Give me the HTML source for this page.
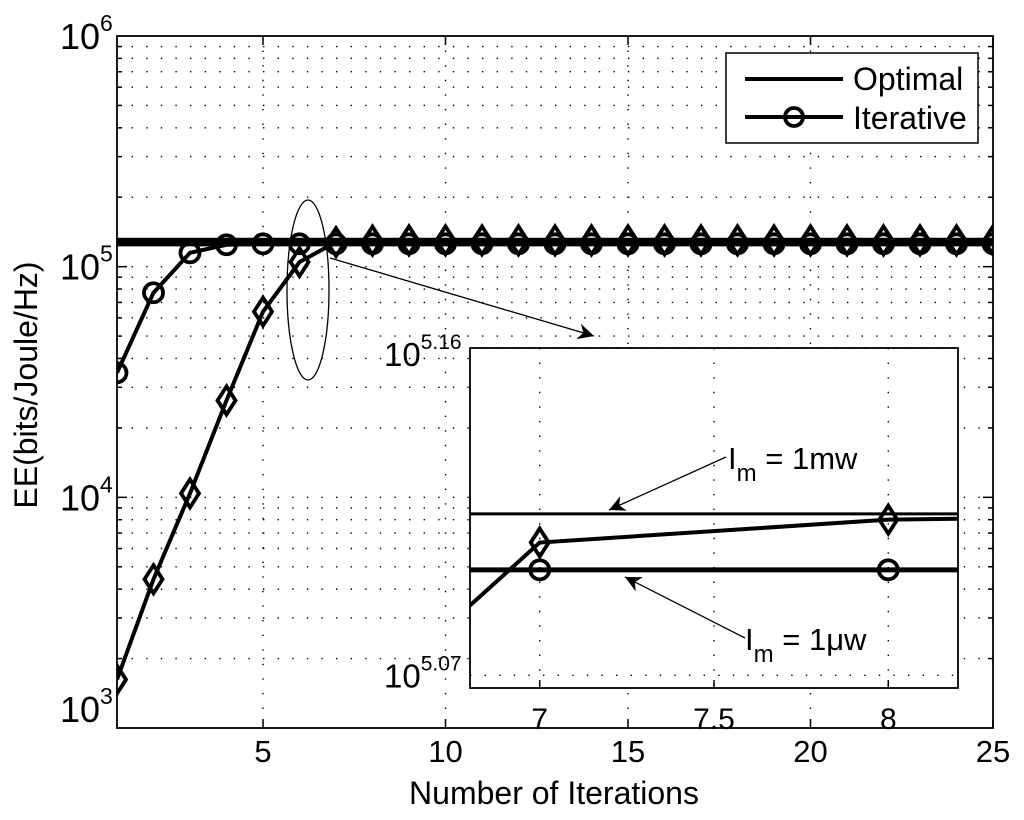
<!DOCTYPE html>
<html><head><meta charset="utf-8"><style>
html,body{margin:0;background:#fff;overflow:hidden;width:1024px;height:820px}
svg{display:block}
svg text{font-family:"Liberation Sans",sans-serif;fill:#000}
</style></head><body>
<svg id="chart" width="1024" height="820" xmlns="http://www.w3.org/2000/svg">
<defs>
<clipPath id="mainClip"><rect x="117" y="36" width="876" height="692"/></clipPath>
<clipPath id="insClip"><rect x="470" y="348" width="488" height="340"/></clipPath>
<marker id="ah" viewBox="0 0 10 10" refX="10" refY="5" markerWidth="16" markerHeight="16" orient="auto" markerUnits="userSpaceOnUse"><path d="M0,0 L10,5 L0,10 L3,5 z" fill="#000"/></marker>
</defs>
<g id="main"></g>
<g id="inset"></g>
</svg>
<script>
// Main chart data (log10 of EE)
const iterX = [1,2,3,4,5,6,7,8,9,10,11,12,13,14,15,16,17,18,19,20,21,22,23,24,25];
const circleLog = [4.54,4.887,5.06,5.095,5.099,5.099,5.099,5.099,5.099,5.099,5.099,5.099,5.099,5.099,5.099,5.099,5.099,5.099,5.099,5.099,5.099,5.099,5.099,5.099,5.099];
const diamondLog = [3.21,3.645,4.017,4.42,4.805,5.02,5.1065,5.1128,5.114,5.114,5.114,5.114,5.114,5.114,5.114,5.114,5.114,5.114,5.114,5.114,5.114,5.114,5.114,5.114,5.114];
const optimalLogs = [5.1144,5.099];
const xTicks = [5,10,15,20,25];
const yDecades = [3,4,5,6];
const insetXTicks = [7,7.5,8];
const insetYTicks = ["5.07","5.16"];

const NS="http://www.w3.org/2000/svg";
function mk(p,tag,attrs){const e=document.createElementNS(NS,tag);for(const k in attrs)e.setAttribute(k,attrs[k]);p.appendChild(e);return e;}
const X=v=>117+(v-1)*(993-117)/24;
const Y=l=>728-(l-3)*(728-36)/3;
const IX=v=>470+(v-6.8)*(958-470)/1.4;
const IY=l=>348+(5.16-l)*(340/0.0935);

const main=document.getElementById('main');
const dot={stroke:"#000","stroke-width":1.4,"stroke-dasharray":"1.4 13.2",fill:"none"};
for(let d=3;d<6;d++){for(let m=1;m<10;m++){const l=d+Math.log10(m);if(l===3)continue;
 const g=mk(main,'line',Object.assign({x1:117,x2:993,y1:Y(l),y2:Y(l)},dot));
 
 
 mk(main,'line',{x1:117,x2:m===1?127:122,y1:Y(l),y2:Y(l),stroke:"#000","stroke-width":1.5});
 mk(main,'line',{x1:993,x2:m===1?983:988,y1:Y(l),y2:Y(l),stroke:"#000","stroke-width":1.5});
}}
xTicks.forEach(t=>{if(t<25){const g=mk(main,'line',Object.assign({x1:X(t),x2:X(t),y1:36,y2:728},dot));
 
 }
 mk(main,'line',{x1:X(t),x2:X(t),y1:728,y2:719,stroke:"#000","stroke-width":1.5});
 mk(main,'line',{x1:X(t),x2:X(t),y1:36,y2:45,stroke:"#000","stroke-width":1.5});
 const tx=mk(main,'text',{x:X(t),y:762,"font-size":31,"text-anchor":"middle"});tx.textContent=t;
 
 
});
yDecades.forEach(d=>{const yy=d===3?Y(d)-6:Y(d)+13;
 const tx=mk(main,'text',{x:60,y:yy,"font-size":36});
 
 
 tx.innerHTML='10<tspan dy="-18" font-size="23">'+d+'</tspan>';});
const frame=mk(main,'rect',{x:117,y:36,width:876,height:692,fill:"none",stroke:"#000","stroke-width":1.8});



const series=mk(main,'g',{"clip-path":"url(#mainClip)"});
optimalLogs.forEach(l=>{const o=mk(series,'line',{x1:117,x2:993,y1:Y(l),y2:Y(l),stroke:"#000","stroke-width":5});
 
 });
function drawSeries(par,xs,ls,fx,fy,type,name){
 const pl=mk(par,'polyline',{points:xs.map((x,i)=>fx(x)+','+fy(ls[i])).join(' '),fill:"none",stroke:"#000","stroke-width":4});
 
 
 xs.forEach((x,i)=>{const cx=fx(x),cy=fy(ls[i]);let m;
  if(type==='c')m=mk(par,'circle',{cx:cx,cy:cy,r:9.5,fill:"none",stroke:"#000","stroke-width":3.8});
  else m=mk(par,'path',{d:`M${cx},${cy-14}L${cx+9},${cy}L${cx},${cy+14}L${cx-9},${cy}Z`,fill:"none",stroke:"#000","stroke-width":3.8});
  
  });
}
drawSeries(series,iterX,diamondLog,X,Y,'d','iterative-1mw');
drawSeries(series,iterX,circleLog,X,Y,'c','iterative-1uw');

const el=mk(main,'ellipse',{cx:308,cy:290,rx:21,ry:90,fill:"none",stroke:"#000","stroke-width":1.3});


const ar=mk(main,'line',{x1:330,y1:258,x2:594,y2:336,stroke:"#000","stroke-width":1.3,"marker-end":"url(#ah)"});



const lg=mk(main,'g',{});


mk(lg,'rect',{x:726,y:53,width:252,height:90,fill:"#fff",stroke:"#000","stroke-width":1.5});
mk(lg,'line',{x1:745,x2:843,y1:79,y2:79,stroke:"#000","stroke-width":4});
mk(lg,'line',{x1:745,x2:843,y1:117,y2:117,stroke:"#000","stroke-width":4});
mk(lg,'circle',{cx:794,cy:117,r:9,fill:"none",stroke:"#000","stroke-width":3.8});
let t=mk(lg,'text',{x:853,y:90,"font-size":32});t.textContent='Optimal';


t=mk(lg,'text',{x:853,y:129,"font-size":32});t.textContent='Iterative';



t=mk(main,'text',{x:554,y:804,"font-size":32,"text-anchor":"middle"});t.textContent='Number of Iterations';


t=mk(main,'text',{x:0,y:0,"font-size":32,"text-anchor":"middle",transform:"translate(37,385) rotate(-90)"});t.textContent='EE(bits/Joule/Hz)';



const ins=document.getElementById('inset');


mk(ins,'rect',{x:470,y:348,width:488,height:340,fill:"#fff"});
insetXTicks.forEach(v=>{mk(ins,'line',Object.assign({x1:IX(v),x2:IX(v),y1:348,y2:688},dot));
 mk(ins,'line',{x1:IX(v),x2:IX(v),y1:688,y2:680,stroke:"#000","stroke-width":1.5});
 const tx=mk(ins,'text',{x:IX(v),y:729,"font-size":30,"text-anchor":"middle"});tx.textContent=v;
 
 });
insetYTicks.forEach(s=>{const l=parseFloat(s);
 mk(ins,'line',Object.assign({x1:470,x2:958,y1:IY(l),y2:IY(l)},dot));
 const tx=mk(ins,'text',{x:384,y:IY(l)+(s==="5.16"?18:12),"font-size":33});
 
 
 tx.innerHTML='10<tspan dy="-17" font-size="21">'+s+'</tspan>';});
const isr=mk(ins,'g',{"clip-path":"url(#insClip)"});
mk(isr,'line',{x1:470,x2:958,y1:IY(optimalLogs[0]),y2:IY(optimalLogs[0]),stroke:"#000","stroke-width":3});
mk(isr,'line',{x1:470,x2:958,y1:IY(optimalLogs[1]),y2:IY(optimalLogs[1]),stroke:"#000","stroke-width":5});
drawSeries(isr,iterX,diamondLog,IX,IY,'d','inset-iterative-1mw');
drawSeries(isr,iterX,circleLog,IX,IY,'c','inset-iterative-1uw');
mk(ins,'rect',{x:470,y:348,width:488,height:340,fill:"none",stroke:"#000","stroke-width":1.8});
let a=mk(ins,'line',{x1:726,y1:457,x2:609,y2:510,stroke:"#000","stroke-width":1.3,"marker-end":"url(#ah)"});


a=mk(ins,'line',{x1:745,y1:638,x2:625,y2:577,stroke:"#000","stroke-width":1.3,"marker-end":"url(#ah)"});


t=mk(ins,'text',{x:728,y:469,"font-size":31});t.innerHTML='I<tspan dy="12" font-size="24">m</tspan><tspan dy="-12"> = 1mw</tspan>';


t=mk(ins,'text',{x:745,y:650,"font-size":31});t.innerHTML='I<tspan dy="12" font-size="24">m</tspan><tspan dy="-12"> = 1μw</tspan>';


</script>
</body></html>
